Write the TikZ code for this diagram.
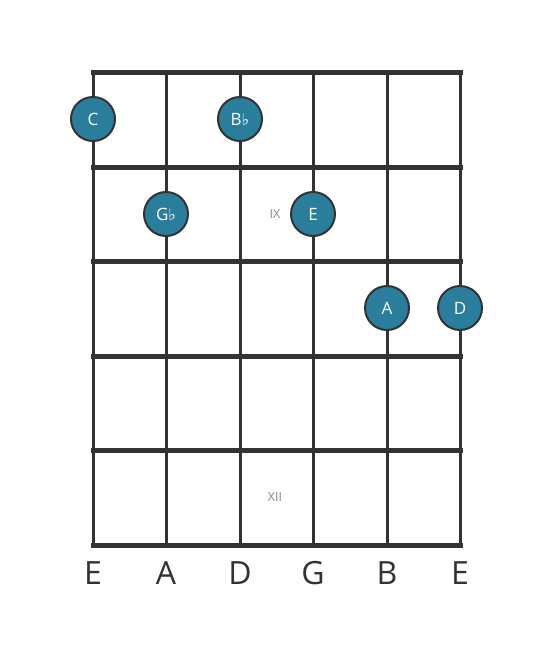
\documentclass[tikz,border=0pt]{standalone}
\usepackage{fontspec}
\setmainfont{Open Sans}
\newfontfamily\symfont{DejaVu Sans}
\definecolor{dotfill}{HTML}{2B7E9B}
\definecolor{linecol}{HTML}{333333}
\definecolor{numcol}{HTML}{8A8A8A}
\newcommand{\flatsym}{{\symfont\fontsize{16pt}{16pt}\selectfont ♭}}
\tikzset{
  stringline/.style={draw=linecol, line width=3pt},
  fretline/.style={draw=linecol, line width=5pt, line cap=rect},
  notedot/.style={circle, fill=dotfill, draw=linecol, line width=2pt, minimum size=44pt, inner sep=0pt, text=white, font=\fontsize{17pt}{17pt}\selectfont},
  fretnum/.style={text=numcol, font=\fontsize{12.5pt}{12.5pt}\selectfont},
  stringname/.style={text=linecol, font=\fontsize{32pt}{32pt}\selectfont}
}
\begin{document}
\begin{tikzpicture}[x=1pt,y=-1pt]
\useasboundingbox (0,0) rectangle (553,656);
\fill[white] (0,0) rectangle (553,656);
% strings
\foreach \x/\n in {93/s1,166/s2,240/s3,313/s4,387/s5,460/s6}{
  \coordinate (\n t) at (\x,72);
  \coordinate (\n b) at (\x,545);
  \draw[stringline] (\n t) -- (\n b);
}
% frets
\foreach \y/\n in {72/f0,167/f1,261/f2,356/f3,450/f4,545/f5}{
  \coordinate (\n l) at (93,\y);
  \coordinate (\n r) at (460,\y);
  \draw[fretline] (\n l) -- (\n r);
}
% fret numbers
\node[fretnum] (ix) at (275,214) {IX};
\node[fretnum] (xii) at (275,497) {XII};
% notes
\node[notedot] (nC) at (93,119) {C};
\node[notedot] (nBb) at (240,119) {B\flatsym};
\node[notedot] (nGb) at (166,214) {G\flatsym};
\node[notedot] (nE) at (313,214) {E};
\node[notedot] (nA) at (387,308) {A};
\node[notedot] (nD) at (460,308) {D};
% string names
\foreach \x/\l/\n in {93/E/l1,166/A/l2,240/D/l3,313/G/l4,387/B/l5,460/E/l6}{
  \node[stringname] (\n) at (\x,573) {\l};
}
\end{tikzpicture}
\end{document}
